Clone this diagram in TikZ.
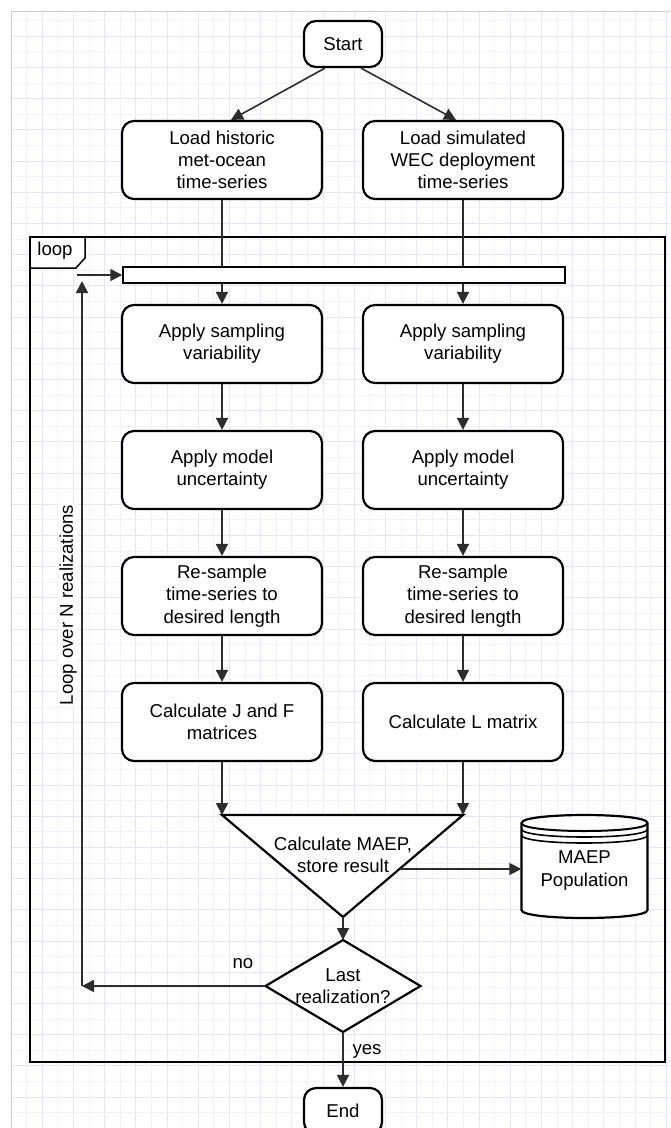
\documentclass[tikz,border=0pt]{standalone}
\usepackage{fontspec}
\setmainfont{Liberation Sans}
\usetikzlibrary{arrows.meta,calc}
\definecolor{linec}{RGB}{45,45,45}
\definecolor{gridl}{RGB}{242,242,253}
\definecolor{gridd}{RGB}{229,229,249}
\definecolor{bordc}{RGB}{205,205,205}
\begin{document}
\begin{tikzpicture}[x=1pt,y=-1pt,
  every node/.style={font=\fontsize{18.6}{22.3}\selectfont, text=black},
  box/.style={draw=black, line width=2.2pt, fill=white, rounded corners=12pt, minimum width=200pt, minimum height=78pt, align=center, inner sep=0pt},
  term/.style={draw=black, line width=2.2pt, fill=white, rounded corners=12pt, minimum width=78pt, minimum height=46pt, inner sep=0pt},
  shp/.style={draw=black, line width=2.2pt, fill=white},
  conn/.style={draw=linec, line width=1.6pt, -{Triangle[length=12pt,width=12pt]}},
  plainc/.style={draw=linec, line width=1.6pt},
  lbl/.style={fill=white, inner sep=1pt},
  txt/.style={align=center, inner sep=0pt}
]
\useasboundingbox (0,0) rectangle (670,1128);
\fill[white] (0,0) rectangle (670,1128);
% grid
\foreach \k in {1,3,...,41} \draw[gridl, line width=1pt] ({11+15.6*\k},11) -- ({11+15.6*\k},1128);
\foreach \k in {2,4,...,42} \draw[gridd, line width=1pt] ({11+15.6*\k},11) -- ({11+15.6*\k},1128);
\foreach \k in {1,3,...,71} \draw[gridl, line width=1pt] (11,{5+15.6*\k}) -- (670,{5+15.6*\k});
\foreach \k in {2,4,...,72} \draw[gridd, line width=1pt] (11,{5+15.6*\k}) -- (670,{5+15.6*\k});
\draw[bordc, line width=1.5pt] (11.5,1128) -- (11.5,11.5) -- (670,11.5);

% loop frame
\draw[black, line width=1.5pt] (30,237) rectangle (665,1062);
\draw[black, line width=1.5pt, fill=white] (30,237) -- (85,237) -- (85,258) -- (76,268) -- (30,268) -- cycle;
\node[txt] (looplbl) at (55,251) {loop};

% nodes
\node[term] (start) at (343,44) {Start};
\node[box] (lh) at (222,160) {Load historic\\met-ocean\\time-series};
\node[box] (ls) at (463,160) {Load simulated\\WEC deployment\\time-series};
\node[draw=black, line width=1.5pt, fill=white, minimum width=442pt, minimum height=16pt, inner sep=0pt] (bar) at (344,275) {};
\node[box] (a2) at (222,344) {Apply sampling\\variability};
\node[box] (b2) at (463,344) {Apply sampling\\variability};
\node[box] (a3) at (222,470) {Apply model\\uncertainty};
\node[box] (b3) at (463,470) {Apply model\\uncertainty};
\node[box] (a4) at (222,596) {Re-sample\\time-series to\\desired length};
\node[box] (b4) at (463,596) {Re-sample\\time-series to\\desired length};
\node[box] (a5) at (222,722) {Calculate J and F\\matrices};
\node[box] (b5) at (463,722) {Calculate L matrix};

% triangle
\coordinate (tl) at (222,815);
\coordinate (tr) at (463,815);
\coordinate (ta) at (343,917);
\coordinate (tro) at (400,869);
\draw[shp] (tl) -- (tr) -- (ta) -- cycle;
\node[txt] (tri) at (343,855) {Calculate MAEP,\\store result};

% database
\node[minimum width=126pt, minimum height=104pt, inner sep=0pt] (db) at (584.5,866.5) {};
\draw[shp] (521.5,823) -- (521.5,910) .. controls (521.5,920.67) and (647.5,920.67) .. (647.5,910) -- (647.5,823) .. controls (647.5,812.33) and (521.5,812.33) .. (521.5,823) -- cycle;
\draw[black, line width=2pt] (521.5,823) .. controls (521.5,833.67) and (647.5,833.67) .. (647.5,823);
\draw[black, line width=1.6pt] (521.5,829) .. controls (521.5,839.67) and (647.5,839.67) .. (647.5,829);
\draw[black, line width=1.6pt] (521.5,835) .. controls (521.5,845.67) and (647.5,845.67) .. (647.5,835);
\node[txt] (dbt) at (584.5,870.5) {MAEP\\Population};

% diamond
\coordinate (dt) at (343,940);
\coordinate (dl) at (265.5,986);
\coordinate (dr) at (420.5,986);
\coordinate (dbm) at (343,1032);
\draw[shp] (dt) -- (dr) -- (dbm) -- (dl) -- cycle;
\node[txt] (dia) at (343,986.5) {Last\\realization?};

\node[term] (end) at (343,1111) {End};

% connectors
\draw[conn] ([xshift=-18pt]start.south) -- ([xshift=9pt]lh.north);
\draw[conn] ([xshift=18pt]start.south) -- ([xshift=-7pt]ls.north);
\draw[plainc] (lh.south) -- (lh.south |- bar.north);
\draw[plainc] (ls.south) -- (ls.south |- bar.north);
\draw[conn] (lh.south |- bar.south) -- (a2.north);
\draw[conn] (ls.south |- bar.south) -- (b2.north);
\draw[conn] (a2) -- (a3);
\draw[conn] (b2) -- (b3);
\draw[conn] (a3) -- (a4);
\draw[conn] (b3) -- (b4);
\draw[conn] (a4) -- (a5);
\draw[conn] (b4) -- (b5);
\draw[conn] (a5.south) -- (tl);
\draw[conn] (b5.south) -- (tr);
\draw[conn] (tro) -- (tro -| db.west);
\draw[conn] (ta) -- (dt);
\draw[conn] (dbm) -- (end.north);
\node[lbl] (yes) at (367,1051) {yes};

% loop return
\coordinate (ret) at (82,986);
\coordinate (rtop) at (82,281);
\coordinate (entry) at (77,275);
\draw[conn] (dl) -- (ret);
\draw[conn] (ret) -- (rtop);
\draw[conn] (entry) -- (bar.west);
\node[lbl] (no) at (243,964) {no};
\node[lbl, rotate=90] (loopn) at (68,605) {Loop over N realizations};
\end{tikzpicture}
\end{document}
